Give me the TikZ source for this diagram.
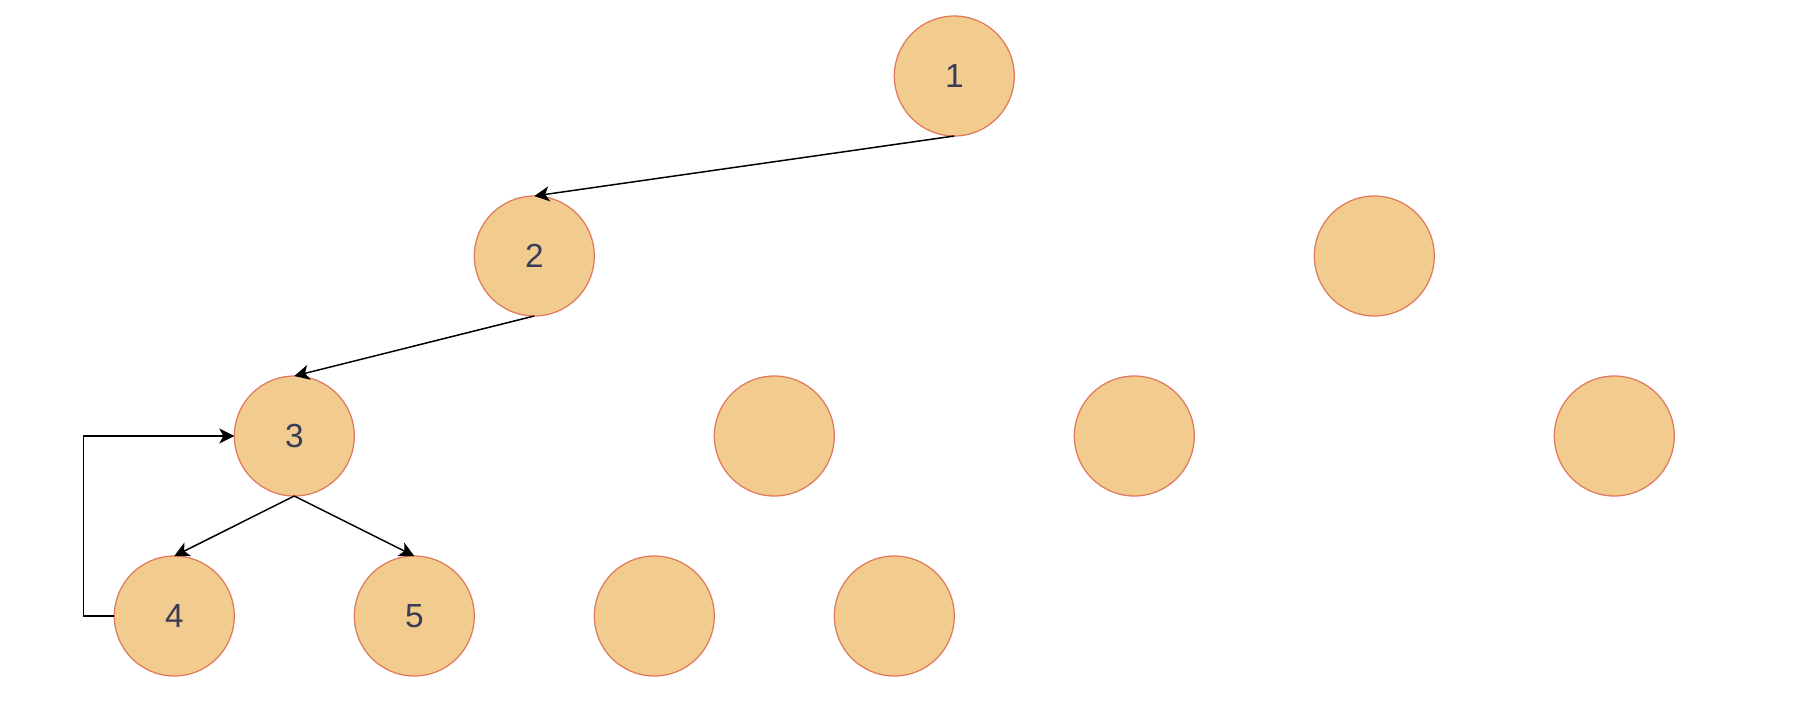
\documentclass[tikz,border=0pt]{standalone}
\usepackage{fontspec}
\setmainfont{Liberation Sans}
\usetikzlibrary{positioning,arrows.meta}
\definecolor{nodefill}{HTML}{F2CC8F}
\definecolor{nodeline}{HTML}{E07A5F}
\definecolor{nodetext}{HTML}{393C56}
\tikzset{
  flowarrow/.style={-{Stealth[length=0.3cm, width=0.3cm, inset=0.08cm]}, line width=0.03cm, black},
  treenode/.style={circle, draw=nodeline, fill=nodefill, line width=0.025cm, minimum size=2.4cm, inner sep=0pt, outer sep=0pt, text=nodetext, font=\fontsize{19}{23}\selectfont}
}

\begin{document}
\begin{tikzpicture}[x=0.02cm, y=-0.02cm]
  \useasboundingbox (0,0) rectangle (1808,724);
  % labelled nodes
  \node[treenode] (n1) at (954.3,76) {1};
  \node[treenode] (n2) at (534.3,256) {2};
  \node[treenode] (n3) at (294.3,436) {3};
  \node[treenode] (n4) at (174.3,616) {4};
  \node[treenode] (n5) at (414.3,616) {5};
  % empty nodes
  \node[treenode] (e1) at (1374.3,256) {};
  \node[treenode] (e2) at (774.3,436) {};
  \node[treenode] (e3) at (1134.3,436) {};
  \node[treenode] (e4) at (1614.3,436) {};
  \node[treenode] (e5) at (654.3,616) {};
  \node[treenode] (e6) at (894.3,616) {};
  % edges
  \draw[flowarrow] (n1.south) -- (n2.north);
  \draw[flowarrow] (n2.south) -- (n3.north);
  \draw[flowarrow] (n3.south) -- (n4.north);
  \draw[flowarrow] (n3.south) -- (n5.north);
  \coordinate (loop) at (83.7,616);
  \draw[flowarrow] (n4.west) -- (loop) |- (n3.west);
\end{tikzpicture}
\end{document}
